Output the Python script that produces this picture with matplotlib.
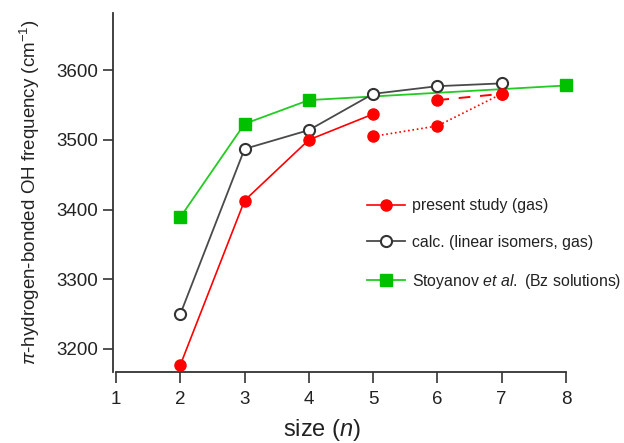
import matplotlib
matplotlib.use("Agg")
import matplotlib.pyplot as plt
from matplotlib.lines import Line2D

plt.rcParams['font.family'] = ['Liberation Sans', 'DejaVu Sans']
plt.rcParams['mathtext.fontset'] = 'custom'
plt.rcParams['mathtext.rm'] = 'Liberation Sans'
plt.rcParams['mathtext.it'] = 'Liberation Sans:italic'

# present study (gas): main branch and the second (lower) branch
n_exp = [2, 3, 4, 5]
f_exp = [3177, 3413, 3500, 3537]
n_exp2 = [5, 6, 7]
f_exp2 = [3505, 3520, 3566]
n_exp3 = [6, 7]
f_exp3 = [3557, 3566]

# calc. (linear isomers, gas)
n_calc = [2, 3, 4, 5, 6, 7]
f_calc = [3250, 3487, 3514, 3566, 3577, 3581]

# Stoyanov et al. (Bz solutions)
n_bz = [2, 3, 4, 8]
f_bz = [3389, 3523, 3557, 3578]

xticks = [1, 2, 3, 4, 5, 6, 7, 8]
yticks = [3200, 3300, 3400, 3500, 3600]

red = '#ff0000'
green = '#22cc22'
gray = '#4a4a4a'
axcol = '#333333'

fig = plt.figure(figsize=(6.24, 4.43), dpi=100)
ax = fig.add_axes([0.1811, 0.1603, 0.7484, 0.8104])

ax.plot(n_bz, f_bz, '-', color=green, lw=1.3, marker='s', ms=9,
        mfc='#00c000', mec='#00c000', clip_on=False, zorder=2)
ax.plot(n_calc, f_calc, '-', color=gray, lw=1.3, marker='o', ms=8,
        mfc='white', mec='#333333', mew=1.5, clip_on=False, zorder=3)
ax.plot(n_exp, f_exp, '-', color=red, lw=1.2, marker='o', ms=8,
        mfc=red, mec=red, clip_on=False, zorder=4)
ax.plot(n_exp2, f_exp2, ':', color=red, lw=1.2, marker='o', ms=8,
        mfc=red, mec=red, clip_on=False, zorder=4)
ax.plot(n_exp3, f_exp3, color=red, lw=1.4, ls=(0, (6, 5)), marker='o', ms=8,
        mfc=red, mec=red, clip_on=False, zorder=4)

ax.set_xlim(0.953, 8.218)
ax.set_ylim(3167, 3682)
ax.set_xticks(xticks)
ax.set_yticks(yticks)

for s in ['top', 'right']:
    ax.spines[s].set_visible(False)
for s in ['left', 'bottom']:
    ax.spines[s].set_color(axcol)
    ax.spines[s].set_linewidth(1.3)
ax.spines['bottom'].set_bounds(1, 8)

ax.tick_params(axis='both', direction='out', width=1.2, color=axcol,
               labelsize=13.5, labelcolor='#222222')
ax.tick_params(axis='y', length=7, pad=4)
ax.tick_params(axis='x', length=8, pad=6)

ax.set_ylabel(r'$\pi$-hydrogen-bonded OH frequency (cm$^{-1}$)',
              fontsize=13.5, color='#222222')
ax.yaxis.set_label_coords(-0.152, 0.5)
ax.set_xlabel(r'size ($n$)', fontsize=17, color='#222222')
ax.xaxis.set_label_coords(0.447, -0.125)

handles = [
    Line2D([], [], color=red, lw=1.2, marker='o', ms=8, mfc=red, mec=red),
    Line2D([], [], color=gray, lw=1.3, marker='o', ms=8, mfc='white',
           mec='#333333', mew=1.5),
    Line2D([], [], color=green, lw=1.3, marker='s', ms=9, mfc='#00c000',
           mec='#00c000'),
]
labels = ['present study (gas)', 'calc. (linear isomers, gas)',
          r'Stoyanov $et$ $al.$ (Bz solutions)']
fig.legend(handles, labels, loc='upper left', bbox_to_anchor=(0.588, 0.552),
           frameon=False, fontsize=11.4, handlelength=2.4, handletextpad=0.42,
           labelspacing=1.36, borderpad=0, borderaxespad=0, numpoints=1,
           labelcolor='#222222')

fig.savefig('out.png', dpi=100)
